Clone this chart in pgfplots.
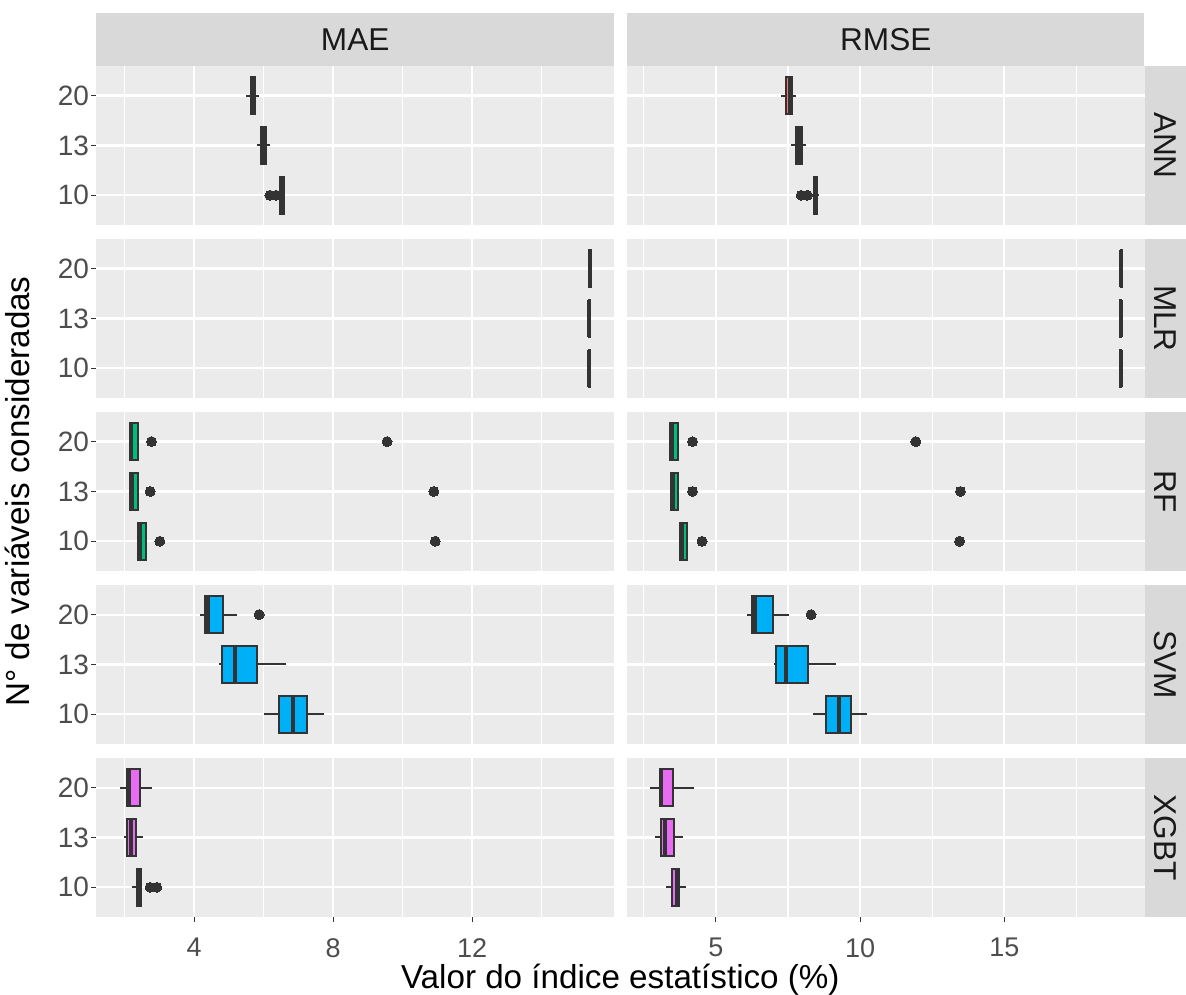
\documentclass[border=0pt]{standalone}
\usepackage{pgfplots}
\pgfplotsset{compat=1.18}
\usepgfplotslibrary{statistics}
\usepackage{fontspec}
\setmainfont{Liberation Sans}
\definecolor{panelbg}{HTML}{EBEBEB}
\definecolor{stripbg}{HTML}{D9D9D9}
\definecolor{dk}{HTML}{333333}
\definecolor{ticklab}{HTML}{4D4D4D}
\definecolor{striptxt}{HTML}{1A1A1A}
\definecolor{annc}{HTML}{F8766D}
\definecolor{mlrc}{HTML}{A3A500}
\definecolor{rfc}{HTML}{00BF7D}
\definecolor{svmc}{HTML}{00B0F6}
\definecolor{xgbc}{HTML}{E76BF3}
\newcommand\ticksize{\fontsize{14}{16}\selectfont}
\newcommand\xticksize{\fontsize{13.5}{15}\selectfont}
\newcommand\stripsize{\fontsize{15.8}{18}\selectfont}
\newcommand\titlesize{\fontsize{16.6}{19}\selectfont}
\pgfplotsset{
  facet/.style={
    scale only axis, width=258.75pt, height=79.75pt, anchor=north west,
    ymin=0.4, ymax=3.6, ytick={1,2,3}, yticklabels={10,13,20},
    axis background/.style={fill=panelbg},
    axis line style={draw=none},
    grid=both,
    major grid style={draw=white, line width=1.1pt},
    minor grid style={draw=white, line width=0.55pt},
    tick align=outside, major tick length=2.5pt, minor tick length=0pt,
    tick style={draw=dk, line width=0.6pt},
    xtick pos=left, ytick pos=left,
    ticklabel style={text=ticklab},
    yticklabel style={font=\ticksize, anchor=east, inner sep=0pt, xshift=-1pt},
    xticklabel style={font=\xticksize, anchor=north, inner sep=0pt, yshift=-7.8pt},
    /pgf/number format/assume math mode=true,
    boxplot/draw direction=x,
    boxplot/box extend=0.75,
    boxplot/whisker extend=0,
  },
  maecol/.style={xmin=1.18, xmax=16.08, xtick={4,8,12}, minor xtick={2,6,10,14}},
  rmsecol/.style={xmin=1.93, xmax=19.87, xtick={5,10,15}, minor xtick={2.5,7.5,12.5,17.5}},
  nox/.style={xmajorticks=false},
  noy/.style={ymajorticks=false},
  bx/.style={draw=dk, line width=1pt, solid, mark=none,
    boxplot/every box/.style={fill=#1},
    boxplot/every median/.style={line width=2pt},
    boxplot/every whisker/.style={line width=1pt}},
  out/.style={only marks, mark=*, mark size=2.5pt, draw=dk, fill=dk, line width=0pt},
}
\begin{document}
\begin{tikzpicture}
\useasboundingbox (0,0) rectangle (593pt,497pt);
% ================= ANN =================
\begin{axis}[facet, maecol, nox, at={(48.15pt,464.15pt)}]
\addplot[bx=annc, boxplot prepared={lower whisker=5.48, lower quartile=5.62, median=5.69, upper quartile=5.76, upper whisker=5.87, draw position=3}] coordinates {};
\addplot[bx=annc, boxplot prepared={lower whisker=5.80, lower quartile=5.93, median=6.00, upper quartile=6.08, upper whisker=6.18, draw position=2}] coordinates {};
\addplot[bx=annc, boxplot prepared={lower whisker=6.40, lower quartile=6.47, median=6.52, upper quartile=6.57, upper whisker=6.62, draw position=1}] coordinates {};
\addplot[out] coordinates {(6.18,1) (6.36,1)};
\end{axis}
\begin{axis}[facet, rmsecol, nox, noy, at={(313.65pt,464.15pt)}]
\addplot[bx=annc, boxplot prepared={lower whisker=7.26, lower quartile=7.43, median=7.56, upper quartile=7.64, upper whisker=7.79, draw position=3}] coordinates {};
\addplot[bx=annc, boxplot prepared={lower whisker=7.61, lower quartile=7.78, median=7.88, upper quartile=7.99, upper whisker=8.13, draw position=2}] coordinates {};
\addplot[bx=annc, boxplot prepared={lower whisker=8.33, lower quartile=8.39, median=8.45, upper quartile=8.50, upper whisker=8.56, draw position=1}] coordinates {};
\addplot[out] coordinates {(7.96,1) (8.17,1)};
\end{axis}
% ================= MLR =================
\begin{axis}[facet, maecol, nox, at={(48.15pt,377.65pt)}]
\addplot[bx=mlrc, boxplot prepared={lower whisker=15.37, lower quartile=15.38, median=15.40, upper quartile=15.42, upper whisker=15.43, draw position=3}] coordinates {};
\addplot[bx=mlrc, boxplot prepared={lower whisker=15.35, lower quartile=15.36, median=15.38, upper quartile=15.40, upper whisker=15.41, draw position=2}] coordinates {};
\addplot[bx=mlrc, boxplot prepared={lower whisker=15.35, lower quartile=15.36, median=15.38, upper quartile=15.40, upper whisker=15.41, draw position=1}] coordinates {};
\end{axis}
\begin{axis}[facet, rmsecol, nox, noy, at={(313.65pt,377.65pt)}]
\addplot[bx=mlrc, boxplot prepared={lower whisker=19.02, lower quartile=19.03, median=19.05, upper quartile=19.07, upper whisker=19.08, draw position=3}] coordinates {};
\addplot[bx=mlrc, boxplot prepared={lower whisker=19.00, lower quartile=19.01, median=19.03, upper quartile=19.05, upper whisker=19.06, draw position=2}] coordinates {};
\addplot[bx=mlrc, boxplot prepared={lower whisker=19.00, lower quartile=19.01, median=19.03, upper quartile=19.05, upper whisker=19.06, draw position=1}] coordinates {};
\end{axis}
% ================= RF =================
\begin{axis}[facet, maecol, nox, at={(48.15pt,291.15pt)}]
\addplot[bx=rfc, boxplot prepared={lower whisker=2.14, lower quartile=2.14, median=2.19, upper quartile=2.39, upper whisker=2.39, draw position=3}] coordinates {};
\addplot[bx=rfc, boxplot prepared={lower whisker=2.16, lower quartile=2.16, median=2.21, upper quartile=2.38, upper whisker=2.38, draw position=2}] coordinates {};
\addplot[bx=rfc, boxplot prepared={lower whisker=2.39, lower quartile=2.39, median=2.44, upper quartile=2.62, upper whisker=2.62, draw position=1}] coordinates {};
\addplot[out] coordinates {(2.77,3) (9.55,3) (2.73,2) (10.90,2) (3.01,1) (10.94,1)};
\end{axis}
\begin{axis}[facet, rmsecol, nox, noy, at={(313.65pt,291.15pt)}]
\addplot[bx=rfc, boxplot prepared={lower whisker=3.41, lower quartile=3.41, median=3.47, upper quartile=3.70, upper whisker=3.70, draw position=3}] coordinates {};
\addplot[bx=rfc, boxplot prepared={lower whisker=3.46, lower quartile=3.46, median=3.51, upper quartile=3.70, upper whisker=3.70, draw position=2}] coordinates {};
\addplot[bx=rfc, boxplot prepared={lower whisker=3.76, lower quartile=3.76, median=3.81, upper quartile=4.01, upper whisker=4.01, draw position=1}] coordinates {};
\addplot[out] coordinates {(4.19,3) (11.93,3) (4.19,2) (13.48,2) (4.52,1) (13.45,1)};
\end{axis}
% ================= SVM =================
\begin{axis}[facet, maecol, nox, at={(48.15pt,204.65pt)}]
\addplot[bx=svmc, boxplot prepared={lower whisker=4.18, lower quartile=4.31, median=4.41, upper quartile=4.82, upper whisker=5.23, draw position=3}] coordinates {};
\addplot[bx=svmc, boxplot prepared={lower whisker=4.71, lower quartile=4.81, median=5.18, upper quartile=5.82, upper whisker=6.65, draw position=2}] coordinates {};
\addplot[bx=svmc, boxplot prepared={lower whisker=6.00, lower quartile=6.45, median=6.84, upper quartile=7.24, upper whisker=7.73, draw position=1}] coordinates {};
\addplot[out] coordinates {(5.87,3)};
\end{axis}
\begin{axis}[facet, rmsecol, nox, noy, at={(313.65pt,204.65pt)}]
\addplot[bx=svmc, boxplot prepared={lower whisker=6.09, lower quartile=6.24, median=6.34, upper quartile=6.97, upper whisker=7.52, draw position=3}] coordinates {};
\addplot[bx=svmc, boxplot prepared={lower whisker=7.00, lower quartile=7.09, median=7.42, upper quartile=8.18, upper whisker=9.18, draw position=2}] coordinates {};
\addplot[bx=svmc, boxplot prepared={lower whisker=8.37, lower quartile=8.82, median=9.26, upper quartile=9.67, upper whisker=10.24, draw position=1}] coordinates {};
\addplot[out] coordinates {(8.30,3)};
\end{axis}
% ================= XGBT =================
\begin{axis}[facet, maecol, at={(48.15pt,118.15pt)}]
\addplot[bx=xgbc, boxplot prepared={lower whisker=1.86, lower quartile=2.05, median=2.12, upper quartile=2.44, upper whisker=2.77, draw position=3}] coordinates {};
\addplot[bx=xgbc, boxplot prepared={lower whisker=1.97, lower quartile=2.06, median=2.17, upper quartile=2.31, upper whisker=2.53, draw position=2}] coordinates {};
\addplot[bx=xgbc, boxplot prepared={lower whisker=2.21, lower quartile=2.34, median=2.40, upper quartile=2.46, upper whisker=2.48, draw position=1}] coordinates {};
\addplot[out] coordinates {(2.73,1) (2.92,1)};
\end{axis}
\begin{axis}[facet, rmsecol, noy, at={(313.65pt,118.15pt)}]
\addplot[bx=xgbc, boxplot prepared={lower whisker=2.73, lower quartile=3.06, median=3.11, upper quartile=3.52, upper whisker=4.24, draw position=3}] coordinates {};
\addplot[bx=xgbc, boxplot prepared={lower whisker=2.90, lower quartile=3.11, median=3.25, upper quartile=3.55, upper whisker=3.87, draw position=2}] coordinates {};
\addplot[bx=xgbc, boxplot prepared={lower whisker=3.26, lower quartile=3.48, median=3.66, upper quartile=3.73, upper whisker=3.96, draw position=1}] coordinates {};
\end{axis}
% ================= strips =================
\fill[stripbg] (48.15pt,464.15pt) rectangle (307pt,490.65pt);
\fill[stripbg] (313.65pt,464.15pt) rectangle (572.15pt,490.65pt);
\node[font=\stripsize, text=striptxt] at (177.6pt,477.4pt) {MAE};
\node[font=\stripsize, text=striptxt] at (442.9pt,477.4pt) {RMSE};
\foreach \t/\lab in {464.15/ANN, 377.65/MLR, 291.15/RF, 204.65/SVM, 118.15/XGBT}{
  \fill[stripbg] (572.5pt,\t pt) rectangle (593pt,\t pt-79.75pt);
  \node[font=\stripsize, text=striptxt, rotate=-90] at (582.75pt,\t pt-39.875pt) {\lab};
}
% ================= axis titles =================
\node[font=\titlesize, anchor=base] at (310.15pt,2.6pt) {Valor do índice estatístico (\%)};
\node[font=\titlesize, anchor=base, rotate=90] at (14.5pt,251.25pt) {N° de variáveis consideradas};
\end{tikzpicture}
\end{document}
